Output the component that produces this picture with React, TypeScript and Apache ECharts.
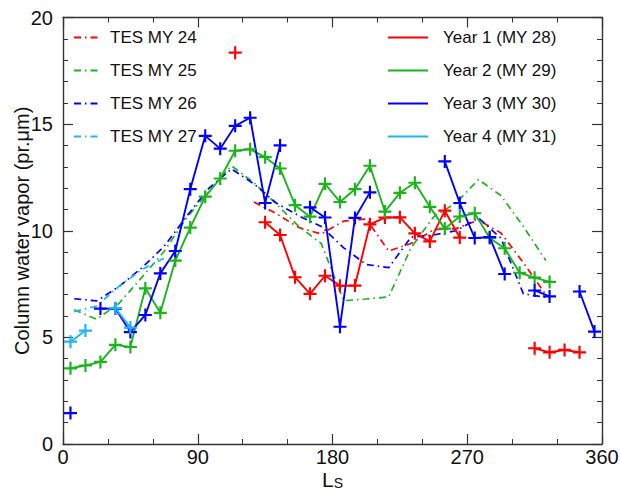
import React, { useEffect, useRef } from 'react';
import * as echarts from 'echarts';

// Ls bin centres of the observation years (10° bins)
const LS_BINS = [5, 15, 25, 35, 45, 55, 65, 75, 85, 95, 105, 115, 125, 135, 145, 155, 165, 175,
  185, 195, 205, 215, 225, 235, 245, 255, 265, 275, 285, 295, 305, 315, 325, 335, 345, 355];

const YEAR1 = [null, null, null, null, null, null, null, null, null, null, null, 18.35, null,
  10.4, 9.8, 7.82, 7.04, 7.89, 7.42, 7.43, 10.3, 10.62, 10.63, 9.88, 9.5, 10.94, 9.68,
  null, null, null, null, 4.49, 4.3, 4.41, 4.3, null];
const YEAR2 = [3.55, 3.68, 3.85, 4.65, 4.55, 7.3, 6.15, 8.6, 10.15, 11.6, 12.45, 13.75, 13.82,
  13.45, 12.92, 11.2, 10.66, 12.2, 11.35, 11.95, 13.05, 10.9, 11.78, 12.25, 11.12, 10.1, 10.67,
  10.82, 9.66, 9.18, 8.03, 7.8, 7.6, null, null, null];
const YEAR3 = [1.45, null, 6.35, 6.35, 5.25, 6.05, 8.0, 9.05, 11.95, 14.45, 13.85, 14.92, 15.3,
  11.3, 14.0, null, 11.1, 10.62, 5.5, 10.6, 11.8, null, null, null, null, 13.25, 11.3,
  9.66, 9.7, 7.97, null, 7.2, 6.92, null, 7.15, 5.27];
const YEAR4 = [4.8, 5.32, null, 6.37, 5.46, null, null, null, null, null, null, null, null,
  null, null, null, null, null, null, null, null, null, null, null, null, null, null,
  null, null, null, null, null, null, null, null, null];

// TES climatology (15° bins)
const TES_LS = [7.5, 22.5, 37.5, 52.5, 67.5, 82.5, 97.5, 112.5, 127.5, 142.5, 157.5, 172.5,
  187.5, 202.5, 217.5, 232.5, 247.5, 262.5, 277.5, 292.5, 307.5, 322.5];
const TES24 = [null, null, null, null, null, null, null, null, 11.35, 10.8, 10.15, 9.85,
  10.45, 10.55, 9.05, 9.4, 10.05, 10.1, 10.5, 9.9, 8.5, 7.0];
const TES25 = [6.29, 5.85, 6.6, 7.8, 9.03, 10.6, 11.85, 13.05, 12.25, 11.25, 10.2, 9.4,
  6.72, 6.8, 6.9, 9.2, 10.65, 11.3, 12.4, 11.65, 10.2, 8.6];
const TES26 = [6.81, 6.71, 7.39, 8.25, 9.26, 10.67, 12.0, 12.9, 12.2, 11.3, 10.7, 10.2,
  9.2, 8.42, 8.27, 9.7, 9.8, 10.0, 10.6, 9.65, 7.04, 6.88];
const TES27 = [6.21, 6.47, 7.4, 8.17, 8.72, null, null, null, null, null, null, null,
  null, null, null, null, null, null, null, null, null, null];

const TES_NAMES = ['TES MY 24', 'TES MY 25', 'TES MY 26', 'TES MY 27'];
const YEAR_NAMES = ['Year 1 (MY 28)', 'Year 2 (MY 29)', 'Year 3 (MY 30)', 'Year 4 (MY 31)'];

const X_TICKS = { min: 0, max: 360, interval: 90 };
const Y_TICKS = { min: 0, max: 20, interval: 5 };

const RED = '#ff0000';
const GREEN = '#1cb41c';
const BLUE = '#0000ff';
const CYAN = '#1eb6f5';
const AXIS = '#333333';
const FONT = '"Liberation Sans", Arial, Helvetica, sans-serif';

const PLUS = 'path://M5,0H7V5H12V7H7V12H5V7H0V5H5Z';
const DASHDOT = [7, 4, 1.5, 4];

function pairs(xs: number[], ys: (number | null)[]) {
  return xs.map((x, i) => [x, ys[i]]);
}

export default function App() {
  const ref = useRef<HTMLDivElement>(null);
  useEffect(() => {
    const chart = echarts.init(ref.current!, null, { renderer: 'svg' });
    const colors = [RED, GREEN, BLUE, CYAN];

    const tesSeries = [TES24, TES25, TES26, TES27].map((d, i) => ({
      name: TES_NAMES[i],
      type: 'line',
      data: pairs(TES_LS, d),
      symbol: 'none',
      connectNulls: false,
      lineStyle: { color: colors[i], width: 1.7, type: DASHDOT },
      itemStyle: { color: colors[i] },
      z: 2,
    }));
    const yearSeries = [YEAR1, YEAR2, YEAR3, YEAR4].map((d, i) => ({
      name: YEAR_NAMES[i],
      type: 'line',
      data: pairs(LS_BINS, d),
      symbol: PLUS,
      symbolSize: 13,
      showSymbol: true,
      showAllSymbol: true,
      connectNulls: false,
      lineStyle: { color: colors[i], width: 1.9, type: 'solid' },
      itemStyle: { color: colors[i] },
      z: 3,
    }));

    const tickCommon = {
      axisLine: { show: true, onZero: false, lineStyle: { color: AXIS, width: 1.4 } },
      axisTick: { show: true, inside: true, length: 10, lineStyle: { color: AXIS, width: 1.2 } },
      splitLine: { show: false },
    };

    const option = {
      animation: false,
      backgroundColor: '#ffffff',
      textStyle: { fontFamily: FONT },
      grid: { left: 63, right: 18, top: 17.5, bottom: 49, containLabel: false, outerBoundsMode: 'none' },
      legend: [
        {
          data: TES_NAMES,
          orient: 'vertical',
          left: 73,
          top: 29,
          padding: 0,
          itemWidth: 24,
          itemHeight: 14,
          itemGap: 16,
          selectedMode: false,
          itemStyle: { opacity: 0 },
          lineStyle: { type: DASHDOT },
          textStyle: { fontSize: 17, color: '#111', fontFamily: FONT, padding: [0, 0, 0, 7] },
        },
        {
          data: YEAR_NAMES,
          orient: 'vertical',
          left: 387,
          top: 29,
          padding: 0,
          itemWidth: 40,
          itemHeight: 14,
          itemGap: 16,
          selectedMode: false,
          itemStyle: { opacity: 0 },
          textStyle: { fontSize: 17, color: '#111', fontFamily: FONT, padding: [0, 0, 0, 10] },
        },
      ],
      xAxis: [
        {
          type: 'value', position: 'bottom', ...X_TICKS,
          ...tickCommon,
          minorTick: { show: true, splitNumber: 3, length: 5, lineStyle: { color: AXIS, width: 1 } },
          axisLabel: { show: true, fontSize: 20, lineHeight: 20, color: '#111', margin: 3, fontFamily: FONT },
          name: '{l|L}{s|S}',
          nameLocation: 'middle',
          nameGap: 26,
          nameMoveOverlap: false,
          nameTextStyle: {
            lineHeight: 20,
            rich: {
              l: { fontSize: 21, lineHeight: 20, color: '#111', fontFamily: FONT, verticalAlign: 'bottom' },
              s: { fontSize: 14, lineHeight: 20, color: '#111', fontFamily: FONT, verticalAlign: 'bottom' },
            },
          },
        },
        {
          type: 'value', position: 'top', ...X_TICKS,
          ...tickCommon,
          minorTick: { show: true, splitNumber: 3, length: 5, lineStyle: { color: AXIS, width: 1 } },
          axisLabel: { show: false },
        },
      ],
      yAxis: [
        {
          type: 'value', position: 'left', ...Y_TICKS,
          ...tickCommon,
          minorTick: { show: true, splitNumber: 5, length: 5, lineStyle: { color: AXIS, width: 1 } },
          axisLabel: { show: true, fontSize: 20, color: '#111', margin: 10, fontFamily: FONT },
          name: 'Column water vapor (pr.μm)',
          nameLocation: 'middle',
          nameGap: 31,
          nameMoveOverlap: false,
          nameTextStyle: { fontSize: 20, color: '#111', fontFamily: FONT },
        },
        {
          type: 'value', position: 'right', ...Y_TICKS,
          ...tickCommon,
          minorTick: { show: true, splitNumber: 5, length: 5, lineStyle: { color: AXIS, width: 1 } },
          axisLabel: { show: false },
        },
      ],
      series: [...tesSeries, ...yearSeries],
    };

    chart.setOption(option as any);
    return () => chart.dispose();
  }, []);

  return (
    <div
      ref={ref}
      style={{ position: 'fixed', left: 0, top: 0, width: 620, height: 493, background: '#fff' }}
    />
  );
}
